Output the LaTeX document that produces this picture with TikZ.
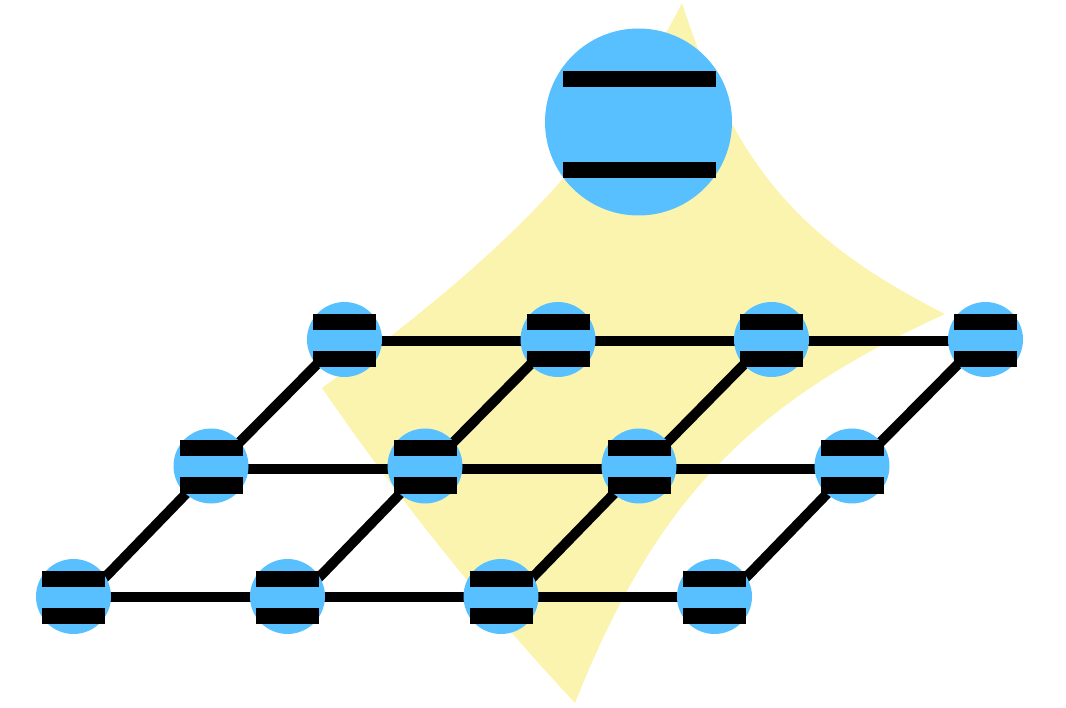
\documentclass[tikz,border=0pt]{standalone}
\usetikzlibrary{calc}
\definecolor{starY}{RGB}{251,244,175}
\definecolor{nodeB}{RGB}{88,192,255}
\pgfdeclarelayer{bg}
\pgfsetlayers{bg,main}
\begin{document}
\begin{tikzpicture}[x=1pt,y=-1pt,
  small/.style={circle, fill=nodeB, minimum size=75pt, inner sep=0pt},
  big/.style={circle, fill=nodeB, minimum size=187pt, inner sep=0pt},
  bar/.style={fill=black},
  link/.style={draw=black, line width=10pt}]
\useasboundingbox (0,0) rectangle (1066,708);

% nodes
\node[big] (big) at (638.5,122) {};
\node[small] (t1) at (344.5,339.5) {};
\node[small] (t2) at (558,339.5) {};
\node[small] (t3) at (771.5,339.5) {};
\node[small] (t4) at (985.5,339.5) {};
\node[small] (m1) at (211,466) {};
\node[small] (m2) at (425,466) {};
\node[small] (m3) at (639,466) {};
\node[small] (m4) at (852,466) {};
\node[small] (b1) at (73.5,596.5) {};
\node[small] (b2) at (287.5,596.5) {};
\node[small] (b3) at (501,596.5) {};
\node[small] (b4) at (714.5,596.5) {};

% bars
\foreach \n in {t1,t2,t3,t4,m1,m2,m3,m4,b1,b2,b3,b4}{
  \fill[bar] ($(\n)+(-31.5,-25.5)$) rectangle ++(63,16);
  \fill[bar] ($(\n)+(-31.5,11.5)$) rectangle ++(63,16);
}
\fill[bar] ($(big)+(-76,-51)$) rectangle ++(153,16);
\fill[bar] ($(big)+(-76,40)$) rectangle ++(153,16);

\begin{pgfonlayer}{bg}
  % star
  \fill[starY] (682,3) .. controls (734.5,164.7) and (797,239) .. (945,314)
     .. controls (747.7,404.5) and (655.3,501.4) .. (575,703)
     .. controls (482.9,604.3) and (398.5,499.3) .. (322,388)
     .. controls (515.4,246.2) and (606.3,149.5) .. cycle;
  % horizontal links
  \draw[link] ($(t1)+(0,2)$) -- ($(t4)+(0,2)$);
  \draw[link] ($(m1)+(0,3)$) -- ($(m4)+(0,3)$);
  \draw[link] (b1.center) -- (b4.center);
  % diagonal links
  \foreach \b/\m/\t in {b1/m1/t1,b2/m2/t2,b3/m3/t3,b4/m4/t4}{
    \draw[link] ($(\b)+(13,0)$) -- ($(\m)+(0,2)$);
    \draw[link] ($(\m)+(0,5)$) -- ($(\t)+(0,-3)$);
  }
\end{pgfonlayer}
\end{tikzpicture}
\end{document}
